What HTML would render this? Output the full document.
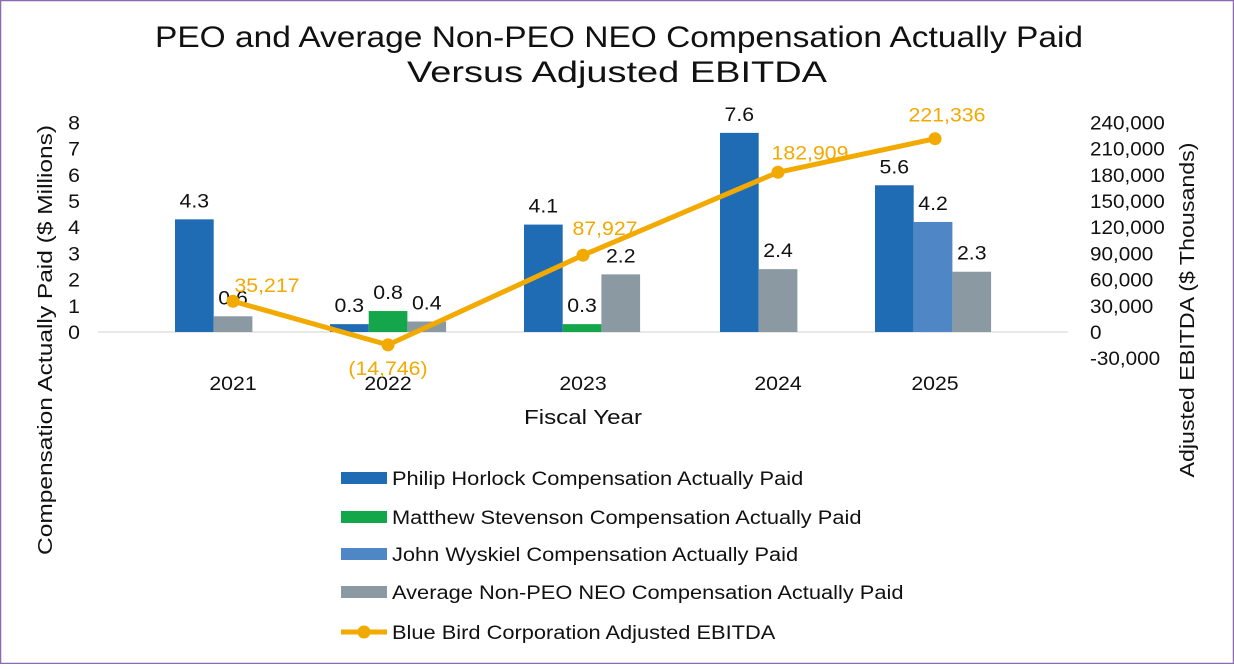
<!DOCTYPE html>
<html><head><meta charset="utf-8"><style>
body{margin:0;background:#fff;font-family:"Liberation Sans",Arial,sans-serif}
svg text{font-family:"Liberation Sans",Arial,sans-serif}
</style></head><body>
<svg width="1234" height="664" viewBox="0 0 1234 664" xmlns="http://www.w3.org/2000/svg">
<rect x="0.5" y="0.5" width="1233" height="663" fill="#fff" stroke="#8e6bb0" stroke-width="1.5"/>
<text x="619" y="47" font-size="30" text-anchor="middle" fill="#111" textLength="928" lengthAdjust="spacingAndGlyphs">PEO and Average Non-PEO NEO Compensation Actually Paid</text>
<text x="617" y="82" font-size="30" text-anchor="middle" fill="#111" textLength="420" lengthAdjust="spacingAndGlyphs">Versus Adjusted EBITDA</text>
<line x1="98" y1="332" x2="1068" y2="332" stroke="#d0d0d0" stroke-width="1"/>
<text transform="translate(52,340) rotate(-90)" font-size="20" text-anchor="middle" fill="#111" textLength="430" lengthAdjust="spacingAndGlyphs">Compensation Actually Paid ($ Millions)</text>
<text transform="translate(1194,310) rotate(-90)" font-size="20" text-anchor="middle" fill="#111" textLength="335" lengthAdjust="spacingAndGlyphs">Adjusted EBITDA ($ Thousands)</text>
<text x="583" y="424" font-size="20" text-anchor="middle" fill="#111" textLength="118" lengthAdjust="spacingAndGlyphs">Fiscal Year</text>
<g id="plot"></g>
<g id="legend"></g>
</svg>
<script>
const years=["2021","2022","2023","2024","2025"];
const philip=[4.3,0.3,4.1,7.6,5.6];
const matthew=[null,0.8,0.3,null,null];
const john=[null,null,null,null,4.2];
const avgNeo=[0.6,0.4,2.2,2.4,2.3];
const ebitda=[35217,-14746,87927,182909,221336];
const ebitdaLabels=["35,217","(14,746)","87,927","182,909","221,336"];
const leftTicks=[0,1,2,3,4,5,6,7,8];
const rightTicks=[-30000,0,30000,60000,90000,120000,150000,180000,210000,240000];

const NS="http://www.w3.org/2000/svg";
const plot=document.getElementById('plot');
const catX=[233,388,583,778,935];
const y0=332, unit=26.2;
const yL=v=>y0-v*unit;
const yR=v=>y0-v/30000*unit;
function el(tag,attrs,txt){const e=document.createElementNS(NS,tag);for(const k in attrs)e.setAttribute(k,attrs[k]);if(txt!==undefined)e.textContent=txt;plot.appendChild(e);return e;}
function stretch(e,f){e.setAttribute('transform','translate('+e.getAttribute('x')*(1-f)+',0) scale('+f+',1)');}
leftTicks.forEach(t=>{const e=el('text',{x:80,y:yL(t)+7,'font-size':19,'text-anchor':'end',fill:'#111'},String(t));
stretch(e,1.12);

});
rightTicks.forEach(t=>{const s=t.toLocaleString('en-US');const e=el('text',{x:1090,y:yR(t)+7,'font-size':19,fill:'#111'},s);
stretch(e,1.09);

});
years.forEach((y,i)=>{const e=el('text',{x:catX[i],y:390,'font-size':19,'text-anchor':'middle',fill:'#111'},y);
stretch(e,1.12);

});
const series=[[philip,'#1f6cb4'],[matthew,'#13a64a'],[john,'#4f86c6'],[avgNeo,'#8b9aa2']];
const bw=38.7, groupStart=[175,330,524,720,875];
years.forEach((y,i)=>{let k=0;series.forEach(([arr,c],si)=>{const v=arr[i];if(v===null)return;const x=groupStart[i]+k*bw;k++;
const r=el('rect',{x:x,y:Math.min(yL(v),y0),width:bw,height:Math.abs(yL(v)-y0),fill:c});


const t=el('text',{x:x+bw/2,y:yL(v)-12,'font-size':19,'text-anchor':'middle',fill:'#111'},v.toFixed(1));
stretch(t,1.12);

});});
const pts=ebitda.map((v,i)=>catX[i]+','+yR(v)).join(' ');
const pl=el('polyline',{points:pts,fill:'none',stroke:'#f2a900','stroke-width':5,'stroke-linejoin':'round'});


const off=[[34,-16],[0,23],[22,-27],[32,-20],[12,-24]];
ebitda.forEach((v,i)=>{const c=el('circle',{cx:catX[i],cy:yR(v),r:6.5,fill:'#f2a900'});


const t=el('text',{x:catX[i]+off[i][0],y:yR(v)+off[i][1]+7,'font-size':19,'text-anchor':'middle',fill:'#f2a900'},ebitdaLabels[i]);
stretch(t,1.12);

});
const leg=document.getElementById('legend');
const items=[['Philip Horlock Compensation Actually Paid','#1f6cb4','bar'],['Matthew Stevenson Compensation Actually Paid','#13a64a','bar'],['John Wyskiel Compensation Actually Paid','#4f86c6','bar'],['Average Non-PEO NEO Compensation Actually Paid','#8b9aa2','bar'],['Blue Bird Corporation Adjusted EBITDA','#f2a900','line']];
const ly=[478,517,554,592,632];
items.forEach((it,i)=>{const g=document.createElementNS(NS,'g');


let s;
if(it[2]==='bar'){s=document.createElementNS(NS,'rect');s.setAttribute('x',341);s.setAttribute('y',ly[i]-6);s.setAttribute('width',46);s.setAttribute('height',12);s.setAttribute('fill',it[1]);g.appendChild(s);}
else{s=document.createElementNS(NS,'line');s.setAttribute('x1',341);s.setAttribute('x2',387);s.setAttribute('y1',ly[i]);s.setAttribute('y2',ly[i]);s.setAttribute('stroke',it[1]);s.setAttribute('stroke-width',5);g.appendChild(s);
const c=document.createElementNS(NS,'circle');c.setAttribute('cx',364);c.setAttribute('cy',ly[i]);c.setAttribute('r',6.5);c.setAttribute('fill',it[1]);g.appendChild(c);}
const t=document.createElementNS(NS,'text');t.setAttribute('x',392);t.setAttribute('y',ly[i]+7);t.setAttribute('font-size',19.5);t.setAttribute('fill','#111');t.setAttribute('transform','translate('+(392*(1-1.12))+',0) scale(1.12,1)');t.textContent=it[0];g.appendChild(t);
leg.appendChild(g);});
</script>
</body></html>
